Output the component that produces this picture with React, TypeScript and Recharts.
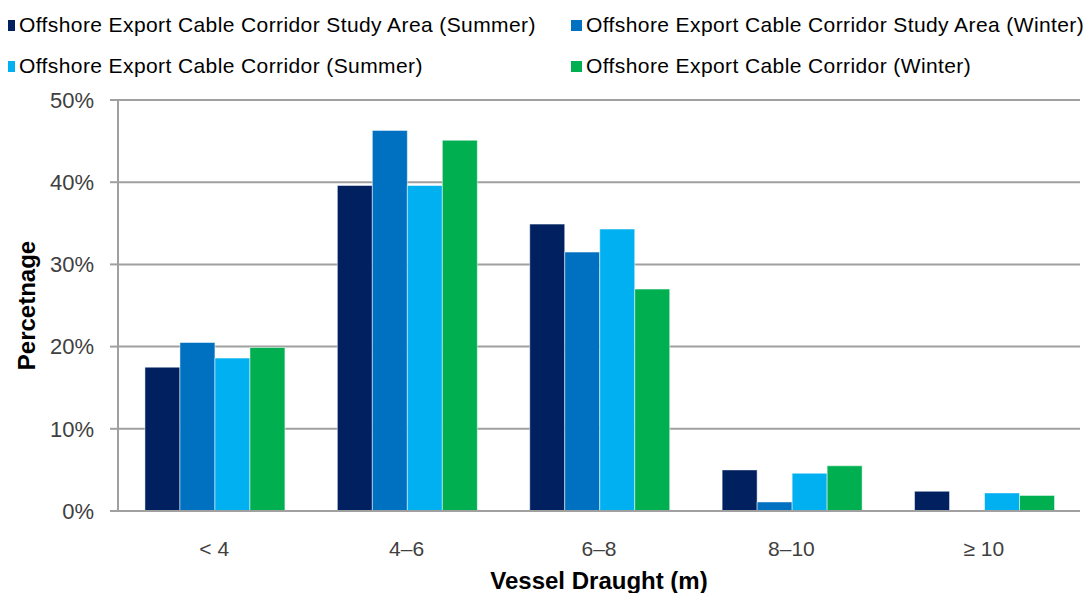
import React from 'react';
import { BarChart, Bar, XAxis, YAxis, CartesianGrid, Legend } from 'recharts';

const categories = ['< 4', '4–6', '6–8', '8–10', '≥ 10'];
const studySummer = [17.5, 39.6, 34.9, 5.0, 2.4];
const studyWinter = [20.5, 46.3, 31.5, 1.1, 0];
const corridorSummer = [18.6, 39.6, 34.3, 4.6, 2.2];
const corridorWinter = [19.9, 45.1, 27.0, 5.5, 1.9];
const yTicks = [0, 10, 20, 30, 40, 50];

const series = [
  { key: 'studySummer', name: 'Offshore Export Cable Corridor Study Area (Summer)', color: '#002060' },
  { key: 'studyWinter', name: 'Offshore Export Cable Corridor Study Area (Winter)', color: '#0070C0' },
  { key: 'corridorSummer', name: 'Offshore Export Cable Corridor (Summer)', color: '#00B0F0' },
  { key: 'corridorWinter', name: 'Offshore Export Cable Corridor (Winter)', color: '#00B050' },
];

const data = categories.map((c, i) => ({
  category: c,
  studySummer: studySummer[i],
  studyWinter: studyWinter[i],
  corridorSummer: corridorSummer[i],
  corridorWinter: corridorWinter[i],
}));

const FONT = '"Liberation Sans", Arial, sans-serif';

const LegendBox = () => (
  <div style={{ height: 90, position: 'relative', fontFamily: FONT, fontSize: 21, color: '#000' }}>
    {series.map((s, i) => (
      <div
        key={s.key}
        style={{
          position: 'absolute',
          left: i % 2 === 0 ? 4 : 571,
          top: i < 2 ? 3 : 44,
          display: 'flex',
          alignItems: 'center',
          whiteSpace: 'nowrap',
          letterSpacing: '0.4px',
        }}
      >
        <span style={{ width: 11, height: 11, background: s.color, display: 'inline-block', marginRight: 4 }} />
        <span>{s.name}</span>
      </div>
    ))}
  </div>
);

const App = () => {
  return (
    <div style={{ margin: -8, background: '#fff', width: 1091, height: 601 }}>
      <BarChart
        width={1091}
        height={601}
        data={data}
        margin={{ top: 10, right: 11, bottom: 4, left: 0 }}
        barCategoryGap="14%"
        barGap={0}
      >
        <Legend verticalAlign="top" align="left" content={() => <LegendBox />} wrapperStyle={{ left: 0, width: 1091 }} />
        <CartesianGrid vertical={false} stroke="#a0a0a0" strokeWidth={2} />
        <XAxis
          dataKey="category"
          height={86}
          tickLine={false}
          axisLine={{ stroke: '#a0a0a0', strokeWidth: 2 }}
          tick={{ fill: '#404040', fontSize: 21, fontFamily: FONT }}
          tickMargin={24}
          label={{
            value: 'Vessel Draught (m)',
            position: 'insideBottom',
            offset: 8,
            style: { fill: '#000', fontSize: 24, fontWeight: 'bold', fontFamily: FONT },
          }}
        />
        <YAxis
          width={118}
          domain={[0, 50]}
          ticks={yTicks}
          tickFormatter={(v: number) => `${v}%`}
          tickSize={8}
          tickMargin={16}
          axisLine={{ stroke: '#a0a0a0', strokeWidth: 2 }}
          tickLine={{ stroke: '#a0a0a0', strokeWidth: 2 }}
          tick={{ fill: '#404040', fontSize: 22, fontFamily: FONT }}
          label={{
            value: 'Percetnage',
            angle: -90,
            position: 'insideLeft',
            offset: 26,
            style: { textAnchor: 'middle', fill: '#000', fontSize: 24, fontWeight: 'bold', fontFamily: FONT },
          }}
        />
        {series.map((s) => (
          <Bar
            key={s.key}
            dataKey={s.key}
            name={s.name}
            fill={s.color}
            stroke="#ffffff"
            strokeWidth={0.5}
            isAnimationActive={false}
          />
        ))}
      </BarChart>
    </div>
  );
};

export default App;
